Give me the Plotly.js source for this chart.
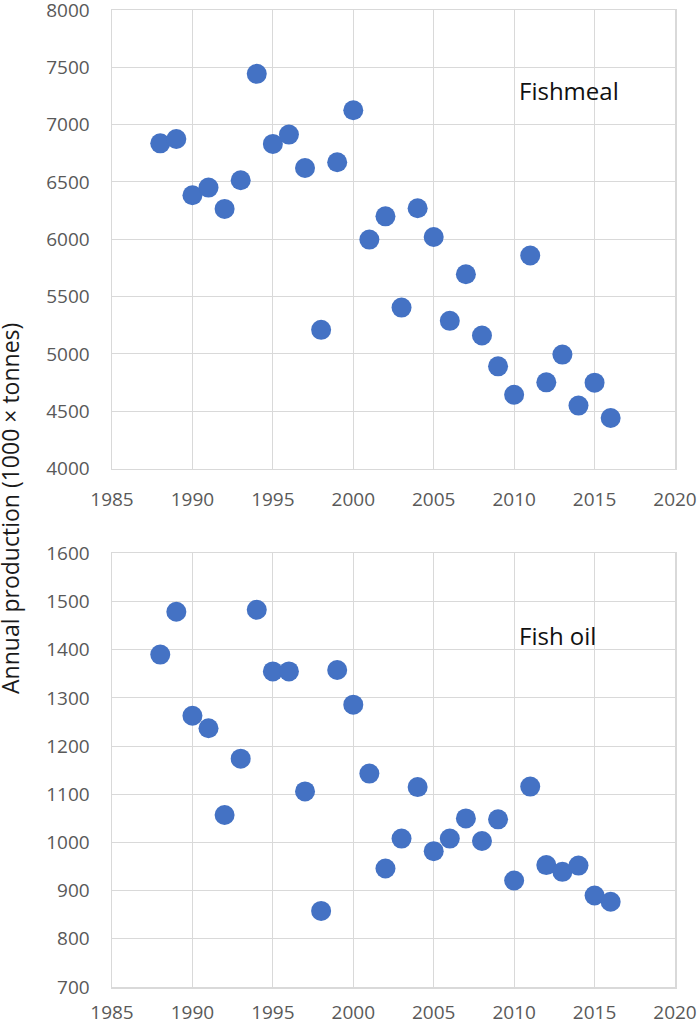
<!DOCTYPE html>
<html>
<head>
<meta charset="utf-8">
<script src="https://cdn.plot.ly/plotly-3.0.1.min.js"></script>
<style>
  html, body { margin: 0; padding: 0; background: #fff; }
  #chart { width: 697px; height: 1022px; }
</style>
</head>
<body>
<div id="chart"></div>
<script>
// years shared by both panels
const years = [1988, 1989, 1990, 1991, 1992, 1993, 1994, 1995, 1996, 1997, 1998, 1999, 2000,
  2001, 2002, 2003, 2004, 2005, 2006, 2007, 2008, 2009, 2010, 2011, 2012, 2013, 2014, 2015, 2016];

// annual production, 1000 x tonnes
const fishmeal = [6837, 6875, 6384, 6451, 6265, 6515, 7443, 6832, 6913, 6622, 5210, 6672, 7125,
  5997, 6200, 5404, 6270, 6020, 5288, 5695, 5160, 4891, 4643, 5858, 4752, 4994, 4549, 4749, 4441];
const fishOil = [1390, 1479, 1263, 1237, 1057, 1174, 1483, 1355, 1355, 1106, 858, 1358, 1286,
  1143, 946, 1008, 1115, 982, 1008, 1050, 1003, 1048, 921, 1116, 953, 939, 952, 890, 877];

const xTicks = [1985, 1990, 1995, 2000, 2005, 2010, 2015, 2020];
const topTicks = [4000, 4500, 5000, 5500, 6000, 6500, 7000, 7500, 8000];
const bottomTicks = [700, 800, 900, 1000, 1100, 1200, 1300, 1400, 1500, 1600];

const blue = '#4472C4';
const grid = '#d9d9d9';
const tickFont = { family: 'Open Sans, sans-serif', size: 19, color: '#595959' };

const traces = [
  {
    x: years, y: fishmeal, type: 'scatter', mode: 'markers',
    marker: { color: blue, size: 20 },
    xaxis: 'x', yaxis: 'y', name: 'Fishmeal'
  },
  {
    x: years, y: fishOil, type: 'scatter', mode: 'markers',
    marker: { color: blue, size: 20 },
    xaxis: 'x2', yaxis: 'y2', name: 'Fish oil'
  }
];

function xAxis(anchor, standoff) {
  return {
    anchor: anchor,
    range: [1985, 2020],
    tickvals: xTicks,
    ticktext: xTicks.map(String),
    showgrid: true, gridcolor: grid, gridwidth: 1,
    showline: true, mirror: true, linecolor: grid, linewidth: 1.5,
    zeroline: false, ticks: '', ticklabelstandoff: standoff,
    ticklabeloverflow: 'allow',
    tickfont: tickFont
  };
}

function yAxis(anchor, range, ticks, domain) {
  return {
    anchor: anchor,
    domain: domain,
    range: range,
    tickvals: ticks,
    ticktext: ticks.map(String),
    showgrid: true, gridcolor: grid, gridwidth: 1,
    showline: true, mirror: true, linecolor: grid, linewidth: 1.5,
    zeroline: false, ticks: '', ticklabelstandoff: 17,
    ticklabeloverflow: 'allow',
    tickfont: tickFont
  };
}

const layout = {
  width: 697, height: 1022,
  margin: { l: 112, r: 22, t: 10, b: 35 },
  paper_bgcolor: '#ffffff',
  plot_bgcolor: '#ffffff',
  showlegend: false,
  font: { family: 'Open Sans, sans-serif' },
  xaxis: xAxis('y', 13),
  yaxis: yAxis('x', [4000, 8000], topTicks, [0.5307, 1]),
  xaxis2: xAxis('y2', 8),
  yaxis2: yAxis('x2', [700, 1600], bottomTicks, [0, 0.4438]),
  annotations: [
    {
      text: 'Fishmeal', xref: 'x', yref: 'y', x: 2010.2, y: 7300,
      xanchor: 'left', yanchor: 'middle', showarrow: false,
      font: { size: 24, color: '#111111' }
    },
    {
      text: 'Fish oil', xref: 'x2', yref: 'y2', x: 2010.2, y: 1430,
      xanchor: 'left', yanchor: 'middle', showarrow: false,
      font: { size: 24, color: '#111111' }
    },
    {
      text: 'Annual production (1000 × tonnes)', xref: 'paper', yref: 'paper',
      x: -0.18, y: 0.49, xanchor: 'center', yanchor: 'middle',
      textangle: -90, showarrow: false,
      font: { size: 23, color: '#1a1a1a' }
    }
  ]
};

Plotly.newPlot('chart', traces, layout, { displayModeBar: false, staticPlot: true });
</script>
</body>
</html>
